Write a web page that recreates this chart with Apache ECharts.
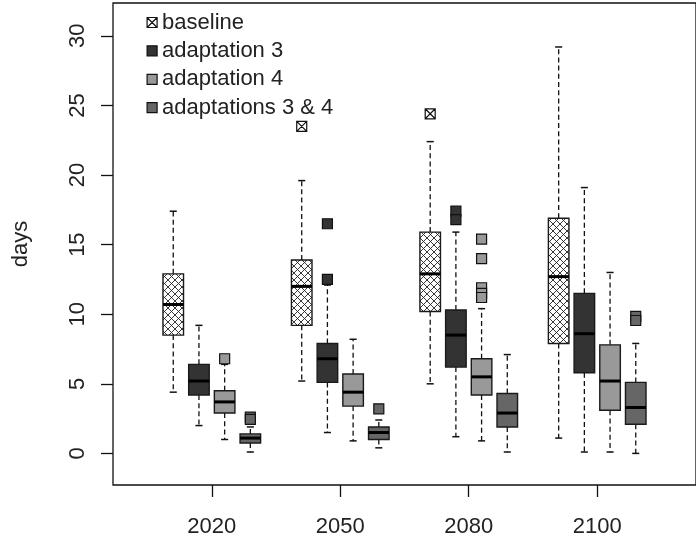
<!DOCTYPE html>
<html>
<head>
<meta charset="utf-8">
<title>days boxplot</title>
<script src="https://cdn.jsdelivr.net/npm/echarts@6/dist/echarts.min.js"></script>
<style>
	html, body { margin: 0; padding: 0; background: #fff; }
	#chart { width: 696px; height: 540px; }
</style>
</head>
<body>
<div id="chart"></div>
<script>
// categories + legend names
let years = ['2020', '2050', '2080', '2100'];
let names = ['baseline', 'adaptation 3', 'adaptation 4', 'adaptations 3 & 4'];
let yTicks = [0, 5, 10, 15, 20, 25, 30];

// [lower whisker, Q1, median, Q3, upper whisker] per year
let baseStats = [
	[4.4, 8.5, 10.7, 12.9, 17.4],
	[5.2, 9.2, 12.0, 13.9, 19.6],
	[5.0, 10.2, 12.9, 15.9, 22.4],
	[1.1, 7.9, 12.7, 16.9, 29.2]
];
let ad3Stats = [
	[2.0, 4.2, 5.2, 6.4, 9.2],
	[1.5, 5.1, 6.8, 7.9, 12.1],
	[1.2, 6.2, 8.5, 10.3, 15.9],
	[0.1, 5.8, 8.6, 11.5, 19.1]
];
let ad4Stats = [
	[1.0, 2.9, 3.7, 4.5, 6.4],
	[0.9, 3.4, 4.4, 5.7, 8.2],
	[0.9, 4.2, 5.5, 6.8, 10.4],
	[0.1, 3.1, 5.2, 7.8, 13.0]
];
let ad34Stats = [
	[0.1, 0.75, 1.1, 1.4, 1.9],
	[0.4, 1.0, 1.5, 1.9, 2.4],
	[0.1, 1.9, 2.9, 4.3, 7.1],
	[0.0, 2.1, 3.3, 5.1, 7.9]
];

// outliers: [year index, value]
let baseOut = [[1, 23.5], [2, 24.4]];
let ad3Out = [[1, 16.5], [1, 12.5], [2, 17.4], [2, 16.8]];
let ad4Out = [[0, 6.8], [2, 15.4], [2, 14.0], [2, 11.9], [2, 11.5], [2, 11.2]];
let ad34Out = [[0, 2.6], [0, 2.45], [1, 3.2], [3, 9.85], [3, 9.55]];

let chart = echarts.init(document.getElementById('chart'));

// hatch tile for the baseline boxes
function hatch() {
	let s = 7;
	let cv = document.createElement('canvas');
	cv.width = s;
	cv.height = s;
	let ctx = cv.getContext('2d');
	ctx.fillStyle = '#fff';
	ctx.fillRect(0, 0, s, s);
	ctx.strokeStyle = '#222';
	ctx.lineWidth = 0.9;
	ctx.beginPath();
	ctx.moveTo(0, 0); ctx.lineTo(s, s);
	ctx.moveTo(s, 0); ctx.lineTo(0, s);
	ctx.stroke();
	return { image: cv, repeat: 'repeat' };
}

let fills = [hatch(), '#333333', '#999999', '#666666'];
let slot = [-0.3, -0.1, 0.1, 0.3];
let allStats = [baseStats, ad3Stats, ad4Stats, ad34Stats];
let allOut = [baseOut, ad3Out, ad4Out, ad34Out];
let xBox = 'path://M0,0L10,0L10,10L0,10ZM0,0L10,10M10,0L0,10';

function boxItem(off, fill) {
	return function (params, api) {
		let g = api.value(0) + off;
		let lo = api.coord([g, api.value(1)]);
		let q1 = api.coord([g, api.value(2)]);
		let md = api.coord([g, api.value(3)]);
		let q3 = api.coord([g, api.value(4)]);
		let hi = api.coord([g, api.value(5)]);
		let half = api.size([0.16, 0])[0] / 2;
		let cap = api.size([0.055, 0])[0] / 2;
		let x = lo[0];
		let dash = { stroke: '#111', lineWidth: 1.3, lineDash: [5, 3.2] };
		let solid = { stroke: '#111', lineWidth: 1.5 };
		return {
			type: 'group',
			children: [
				{ type: 'line', shape: { x1: x, y1: q3[1], x2: x, y2: hi[1] }, style: dash },
				{ type: 'line', shape: { x1: x, y1: q1[1], x2: x, y2: lo[1] }, style: dash },
				{ type: 'line', shape: { x1: x - cap, y1: hi[1], x2: x + cap, y2: hi[1] }, style: solid },
				{ type: 'line', shape: { x1: x - cap, y1: lo[1], x2: x + cap, y2: lo[1] }, style: solid },
				{
					type: 'rect',
					shape: { x: x - half, y: q3[1], width: half * 2, height: q1[1] - q3[1] },
					style: { fill: fill, stroke: '#1a1a1a', lineWidth: 1.4 }
				},
				{ type: 'line', shape: { x1: x - half, y1: md[1], x2: x + half, y2: md[1] }, style: { stroke: '#000', lineWidth: 3 } }
			]
		};
	};
}

let series = [];
for (let k = 0; k < 4; k++) {
	series.push({
		name: names[k],
		type: 'custom',
		renderItem: boxItem(slot[k], fills[k]),
		encode: { x: 0, y: [1, 2, 3, 4, 5] },
		itemStyle: { color: k == 0 ? '#fff' : fills[k] },
		data: allStats[k].map((s, i) => [i].concat(s)),
		z: 2
	});
	series.push({
		name: names[k],
		type: 'scatter',
		symbol: k == 0 ? xBox : 'rect',
		symbolSize: 10,
		itemStyle: {
			color: k == 0 ? '#fff' : fills[k],
			borderColor: '#111',
			borderWidth: 1.2,
			opacity: 1
		},
		data: allOut[k].map(o => [o[0] + slot[k], o[1]]),
		z: 3
	});
}

let option = {
	animation: false,
	backgroundColor: '#fff',
	textStyle: { fontFamily: 'Liberation Sans, Arial, sans-serif' },
	grid: {
		left: 113,
		top: 3,
		width: 595,
		height: 482,
		show: true,
		borderColor: '#111',
		borderWidth: 1.3
	},
	legend: {
		orient: 'vertical',
		left: 141.5,
		top: 6.5,
		itemWidth: 10,
		itemHeight: 10,
		itemGap: 6.4,
		selectedMode: false,
		textStyle: { fontSize: 22, lineHeight: 22, color: '#222' },
		data: [
			{ name: names[0], icon: xBox, itemStyle: { color: '#fff', borderColor: '#111', borderWidth: 1.2 } },
			{ name: names[1], icon: 'rect', itemStyle: { color: fills[1], borderColor: '#111', borderWidth: 1.2 } },
			{ name: names[2], icon: 'rect', itemStyle: { color: fills[2], borderColor: '#111', borderWidth: 1.2 } },
			{ name: names[3], icon: 'rect', itemStyle: { color: fills[3], borderColor: '#111', borderWidth: 1.2 } }
		]
	},
	xAxis: {
		type: 'value',
		min: -0.769,
		max: 3.769,
		axisLine: { show: false, onZero: false },
		splitLine: { show: false },
		axisTick: { show: true, length: 12, customValues: [0, 1, 2, 3], lineStyle: { color: '#111', width: 1.3 } },
		axisLabel: {
			customValues: [0, 1, 2, 3],
			formatter: v => years[Math.round(v)],
			fontSize: 22,
			color: '#222',
			margin: 31
		}
	},
	yAxis: {
		type: 'value',
		min: -2.27,
		max: 32.36,
		name: 'days',
		nameLocation: 'middle',
		nameRotate: 90,
		nameGap: 81,
		nameTextStyle: { fontSize: 22, color: '#222' },
		axisLine: { show: false, onZero: false },
		splitLine: { show: false },
		axisTick: { show: true, length: 12, customValues: yTicks, lineStyle: { color: '#111', width: 1.3 } },
		axisLabel: {
			customValues: yTicks,
			rotate: 90,
			fontSize: 22,
			color: '#222',
			margin: 24
		}
	},
	series: series
};
chart.setOption(option);
</script>
</body>
</html>
